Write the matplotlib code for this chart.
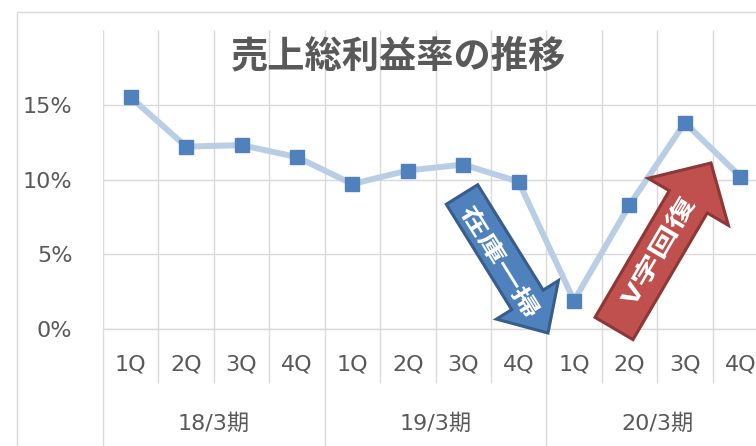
import numpy as np
import matplotlib
matplotlib.use("Agg")
import matplotlib.pyplot as plt
from matplotlib.patches import FancyArrow, PathPatch, Rectangle
from matplotlib.textpath import TextPath
from matplotlib.font_manager import FontProperties
from matplotlib.transforms import Affine2D, blended_transform_factory
from matplotlib.ticker import PercentFormatter

plt.rcParams['font.family'] = ['DejaVu Sans', 'Noto Sans CJK JP']

# --- data ---
quarters = ['1Q', '2Q', '3Q', '4Q'] * 3
fiscal_years = ['18/3期', '19/3期', '20/3期']
gross_margin = [15.5, 12.2, 12.3, 11.5,
                9.7, 10.6, 11.0, 9.85,
                1.9, 8.3, 13.8, 10.2]
y_ticks = [0, 5, 10, 15]

GRID = '#D9D9D9'
TEXT = '#595959'

W, H = 756, 446
fig = plt.figure(figsize=(W / 100, H / 100), dpi=100)

# chart frame (runs off the right/bottom edge like the screenshot)
fig.add_artist(Rectangle((17 / W, -0.1), 1.2, (H - 12) / H + 0.1,
                         transform=fig.transFigure, fill=False,
                         edgecolor=GRID, lw=1.0))

ax = fig.add_axes([103 / W, (H - 329) / H, 665 / W, 299 / H])
n = len(gross_margin)
x = np.arange(n)

ax.set_xlim(-0.5, n - 0.5)
ax.set_ylim(0, 20)
ax.set_yticks(y_ticks)
ax.yaxis.set_major_formatter(PercentFormatter(decimals=0))
ax.set_xticks([])
ax.tick_params(axis='y', length=0, pad=22, labelsize=16, labelcolor=TEXT)
for s in ax.spines.values():
    s.set_visible(False)
ax.yaxis.grid(True, color=GRID, lw=1.0)
ax.set_axisbelow(True)
ax.axhline(0, color=GRID, lw=1.0, clip_on=False, zorder=0)
ax.vlines(np.arange(n + 1) - 0.5, 0, 20, color=GRID, lw=1.0, zorder=0)

ax.plot(x, gross_margin, color='#B9CDE5', lw=4.3, marker='s', ms=10.5,
        mfc='#4F81BD', mec='#4F81BD', zorder=3)

# two-level category axis
tr = blended_transform_factory(ax.transData, ax.transAxes)
for i, q in enumerate(quarters):
    ax.text(i, -0.12, q, transform=tr, ha='center', va='center',
            fontsize=16, color=TEXT)
for j, fy in enumerate(fiscal_years):
    ax.text(4 * j + 1.5, -0.315, fy, transform=tr, ha='center', va='center',
            fontsize=16, color=TEXT)
inner = [k - 0.5 for k in range(n + 1) if k % 4 != 0]
outer = [k - 0.5 for k in range(0, n + 1, 4)]
ax.vlines(inner, -0.18, 0, transform=tr, color=GRID, lw=1.0, clip_on=False)
ax.vlines(outer, -0.5, 0, transform=tr, color=GRID, lw=1.0, clip_on=False)

fig.text(398 / W, (H - 57) / H, '売上総利益率の推移', ha='center', va='center',
         fontsize=26.8, fontweight='bold', color=TEXT, family='Noto Sans CJK JP')


# --- block arrows drawn in pixel space (converted to inches) ---
def px(p):
    return p[0] / 100, (H - p[1]) / 100


def block_arrow(tail, tip, width, head_w, head_l, face, edge):
    tx, ty = px(tail)
    hx, hy = px(tip)
    fig.add_artist(FancyArrow(tx, ty, hx - tx, hy - ty, width=width / 100,
                              head_width=head_w / 100, head_length=head_l / 100,
                              length_includes_head=True, transform=fig.dpi_scale_trans,
                              facecolor=face, edgecolor=edge, lw=2.2, zorder=5))


def arrow_label(text, center, angle, size, stretch):
    fp = FontProperties(family='Noto Sans CJK JP', weight='bold')
    path = TextPath((0, 0), text, size=1, prop=fp)
    bb = path.get_extents()
    cx, cy = px(center)
    t = (Affine2D().translate(-(bb.x0 + bb.x1) / 2, -(bb.y0 + bb.y1) / 2)
         .scale(size * stretch / 100, size / 100).rotate_deg(angle).translate(cx, cy))
    fig.add_artist(PathPatch(t.transform_path(path), transform=fig.dpi_scale_trans,
                             facecolor='white', edgecolor='none', zorder=6))


block_arrow((462, 194.5), (548, 333), 37, 73, 39, '#4F81BD', '#385D8A')
arrow_label('在庫一掃', (501, 261), -58, 22, 1.45)

block_arrow((614, 328.5), (711, 163), 44, 93, 45, '#C0504D', '#8C3836')
arrow_label('V字回復', (657, 251), 59.6, 23, 1.45)

fig.savefig('out.png', dpi=100)
